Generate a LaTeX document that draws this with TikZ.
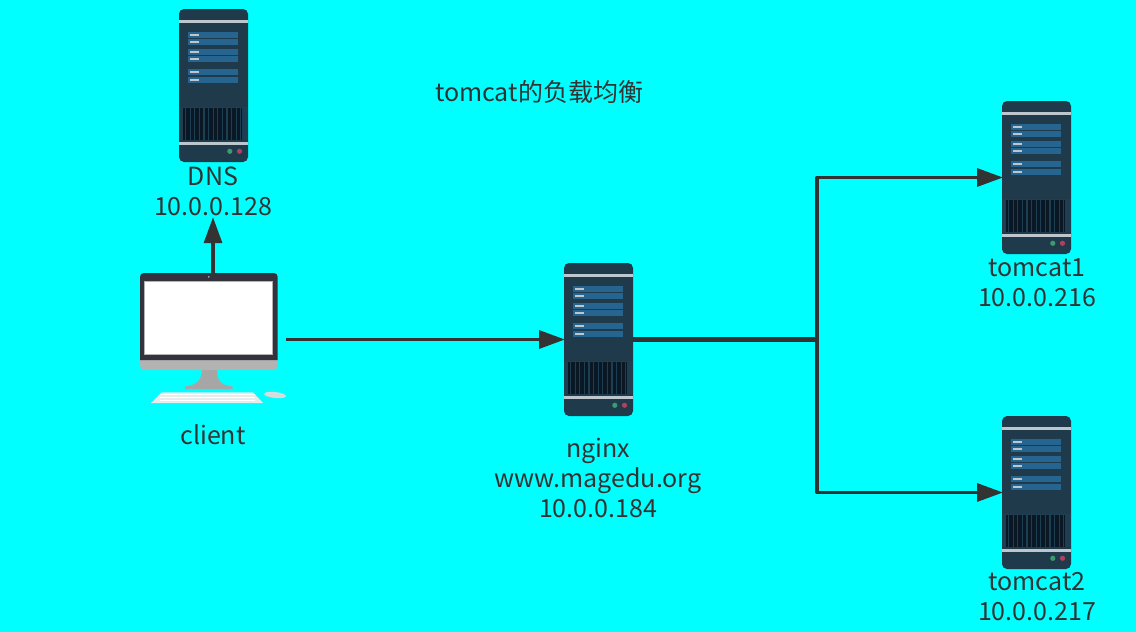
\documentclass[tikz,border=0pt]{standalone}
\usepackage{fontspec}
\setmainfont{Noto Sans CJK SC}
\usepackage{xcolor}
\usetikzlibrary{arrows.meta}
\definecolor{bgcyan}{HTML}{00FFFF}
\definecolor{inkgray}{HTML}{333333}
\definecolor{srvbody}{HTML}{1F3A4A}
\definecolor{srvrow}{HTML}{25658F}
\definecolor{srvbar}{HTML}{BCC6CC}
\definecolor{srvgrill}{HTML}{0A1826}
\definecolor{srvslot}{HTML}{1E3E52}
\definecolor{srvgreen}{HTML}{3C9A6E}
\definecolor{srvred}{HTML}{B0405F}
\definecolor{pcframe}{HTML}{33333D}
\definecolor{pcchin}{HTML}{B3B3B3}
\definecolor{pcstand}{HTML}{A6A6A6}
\definecolor{pckeys}{HTML}{E6EBEB}
\tikzset{
    label text/.style={font=\fontsize{25}{30}\selectfont, text=inkgray, align=center, inner sep=0pt},
    link/.style={draw=inkgray, line width=3.4pt, line join=round},
    link arrow/.style={link, -{Triangle[length=26pt,width=18pt]}, shorten >=-1pt},
    pics/server/.style={code={
        % the body, its name gives the connectors something to end on
        \node[anchor=north west, minimum width=69pt, minimum height=153pt, inner sep=0pt, outer sep=0pt] (-box) at (0,0) {};
        \fill[srvbody, rounded corners=5pt] (0,0) rectangle (69,153);
        \fill[srvbar] (0,11) rectangle (69,13.5);
        \fill[srvbar] (0,133) rectangle (69,135.5);
        % three pairs of drive rows
        \foreach \y in {23,30,40,47,60,68} {
            \fill[srvrow] (9,\y) rectangle (59,\y+5.6);
            \fill[srvbar] (11,\y+1.8) rectangle (20,\y+3.6);
        }
        % the grill near the foot
        \fill[srvslot] (0,97.5) rectangle (69,131);
        \fill[srvgrill] (4,99) rectangle (63,131);
        \foreach \x in {6.5,11.1,...,62} {
            \draw[srvslot, line width=1.2pt] (\x,99) -- (\x,131);
        }
        \fill[srvgreen] (50.8,142.3) circle (2.6pt);
        \fill[srvred] (60.5,142.3) circle (2.6pt);
    }},
    pics/desktop/.style={code={
        \node[anchor=north west, minimum width=146pt, minimum height=133pt, inner sep=0pt, outer sep=0pt] (-box) at (0,0) {};
        % stand first, the screen goes over it
        \fill[pcstand] (62,95) -- (77,95) .. controls (77,106) and (79,112) .. (92.5,113.5) -- (92.5,116) -- (45,116) -- (45,113.5) .. controls (58,112) and (62,106) .. (62,95) -- cycle;
        \fill[pcchin] (0,85) -- (137.7,85) -- (137.7,92) .. controls (137.7,95) and (136,97) .. (133,97) -- (5,97) .. controls (2,97) and (0,95) .. (0,92) -- cycle;
        \fill[pcframe] (0,87) -- (0,4) .. controls (0,1.5) and (1.5,0) .. (4,0) -- (133.7,0) .. controls (136.2,0) and (137.7,1.5) .. (137.7,4) -- (137.7,87) -- cycle;
        \fill[white] (4,8) rectangle (132.7,81);
        \draw[gray!60, line width=0.6pt] (4,8) rectangle (132.7,81);
        \fill[gray!70] (68.8,3.8) circle (1pt);
        % keyboard and mouse
        \fill[pckeys] (21.7,119.3) -- (113,119.3) -- (123,130) -- (10.7,130) -- cycle;
        \foreach \y in {121.6,124.6,127.6} {
            \draw[white, line width=1.6pt] (20,\y) -- (115,\y);
        }
        \fill[pckeys!85!gray, rotate around={-6:(135,122)}] (135,122) ellipse (11pt and 3pt);
    }}
}
\begin{document}
\begin{tikzpicture}[x=1pt,y=-1pt]
    \fill[bgcyan] (0,0) rectangle (1136,632);
    \useasboundingbox (0,0) rectangle (1136,632);

    % the machines
    \pic (dns) at (179,9) {server};
    \pic (nginx) at (564,263) {server};
    \pic (tomcata) at (1002,101) {server};
    \pic (tomcatb) at (1002,416) {server};
    \pic (client) at (140,273) {desktop};

    % their labels
    \node[label text] (title) at (539,92) {tomcat的负载均衡};
    \node[label text] (dnslabel) at (213,191) {DNS\\10.0.0.128};
    \node[label text] (clientlabel) at (213,435) {client};
    \node[label text] (nginxlabel) at (598,478) {nginx\\www.magedu.org\\10.0.0.184};
    \node[label text] (tomcatalabel) at (1037,283) {tomcat1\\10.0.0.216};
    \node[label text] (tomcatblabel) at (1037,597) {tomcat2\\10.0.0.217};

    % the links
    \coordinate (fork) at (817,339.5);
    \draw[link arrow, shorten >=1.5pt] (client-box.north) -- (dnslabel.south);
    \draw[link arrow] (client-box.east) -- (nginx-box.west);
    \draw[link, line width=4.2pt] (nginx-box.east) -- (fork);
    \draw[link arrow] (fork) |- (tomcata-box.west);
    \draw[link arrow] (fork) |- (tomcatb-box.west);
\end{tikzpicture}
\end{document}
